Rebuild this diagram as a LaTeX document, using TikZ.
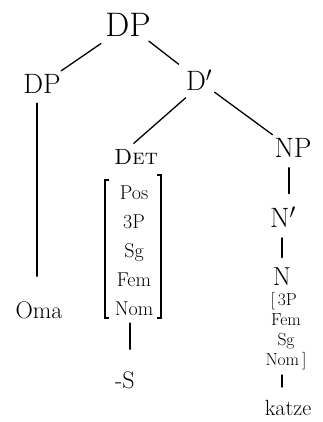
\documentclass[tikz,border=0pt]{standalone}
\usetikzlibrary{calc}
\begin{document}
\begin{tikzpicture}[x=1pt,y=-1pt,
  every node/.style={inner sep=0pt},
  big/.style={font=\fontsize{34}{34}\selectfont},
  cat/.style={font=\fontsize{28}{28}\selectfont},
  feat/.style={font=\fontsize{20}{29}\selectfont, align=center},
  nfeat/.style={font=\fontsize{17.5}{20}\selectfont, align=center},
  word/.style={font=\fontsize{24}{24}\selectfont},
  edge/.style={line width=1.3pt, line cap=round},
  brk/.style={line width=1.3pt}]
\useasboundingbox (0,0) rectangle (322,422);
\node[big] (dp) at (128,25) {DP};
\node[cat] (dpl) at (42,84) {DP};
\node[cat] (dbar) at (199,80) {D$'$};
\node[word] (oma) at (39,310) {Oma};
\node[font=\fontsize{22}{22}\selectfont] (det) at (136,157) {\textsc{Det}};
\node[feat] (detf) at (134,251) {Pos\\3P\\Sg\\Fem\\Nom};
\node[word] (s) at (125,380) {-S};
\node[cat] (np) at (293,148) {NP};
\node[cat] (nbar) at (283,217) {N$'$};
\node[font=\fontsize{26}{26}\selectfont] (n) at (282,277) {N};
\node[nfeat] (nf) at (286,331) {[\,3P\phantom{]}\\Fem\\Sg\\Nom\,]};
\node[font=\fontsize{22}{22}\selectfont] (katze) at (288,408) {katze};
\draw[edge, shorten <=12pt, shorten >=6pt] (dp) -- (dpl);
\draw[edge, shorten <=7pt, shorten >=9pt] (dp) -- (dbar);
\draw[edge, shorten <=9.5pt, shorten >=25pt] ([xshift=-5pt]dpl.south) -- ([xshift=-5pt]dpl.south |- oma.north);
\draw[edge, shorten <=11pt, shorten >=9pt] ([xshift=-5pt]dbar.south) -- ([xshift=-9pt]det.north);
\draw[edge, shorten <=3pt, shorten >=6pt] (dbar.south east) -- ([xshift=3pt]np.north west);
\draw[edge, shorten <=7pt, shorten >=22pt] ([xshift=-4pt]detf.south) -- ([xshift=-4pt]detf.south |- s.north);
\draw[edge, shorten <=10pt, shorten >=13pt] ([xshift=-4pt]np.south) -- ([xshift=-4pt]np.south |- nbar.north);
\draw[edge, shorten <=10.5pt, shorten >=10.5pt] ([xshift=-1pt]nbar.south) -- ([xshift=-1pt]nbar.south |- n.north);
\draw[edge, shorten <=5pt, shorten >=13pt] ([xshift=-4pt]nf.south) -- ([xshift=-4pt]nf.south |- katze.north);
\draw[brk] ($(detf.center)+(-25,-71)$) -- ++(-4,0) -- ++(0,138) -- ++(4,0);
\draw[brk] ($(detf.center)+(23,-76)$) -- ++(4,0) -- ++(0,143) -- ++(-4,0);
\end{tikzpicture}
\end{document}
